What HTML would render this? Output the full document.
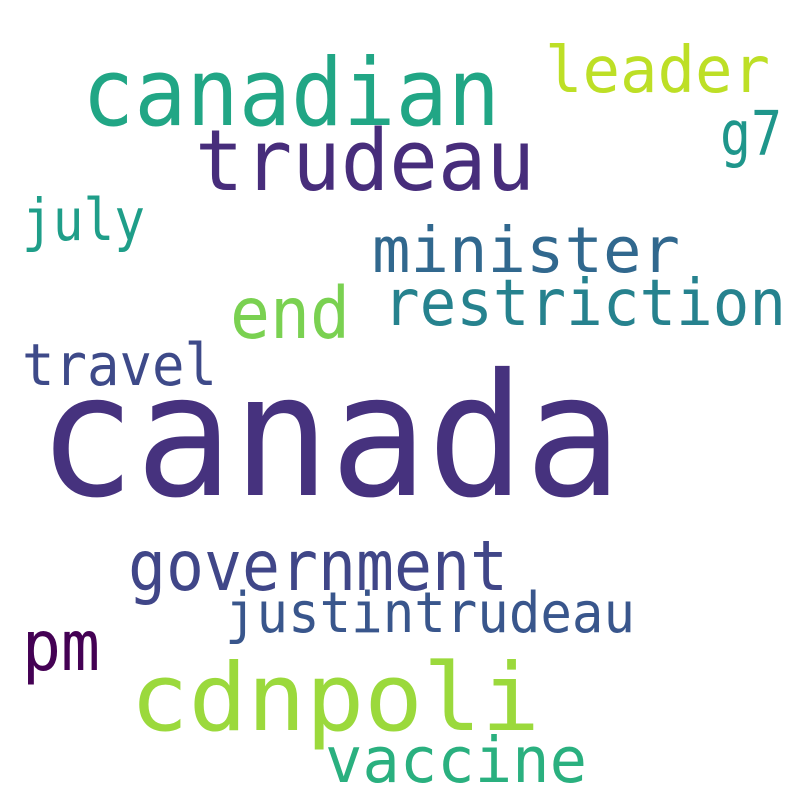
<!DOCTYPE html>
<html><head><meta charset="utf-8"><style>
html,body{margin:0;padding:0;background:#fff;}
svg{display:block;}
text{font-family:"DejaVu Sans Mono","Liberation Mono",monospace;}
</style></head><body>
<svg id="cloud" width="800" height="800" viewBox="0 0 800 800"></svg>
<script>
const words = ["canada","canadian","trudeau","leader","g7","july","minister","end","restriction","travel","government","justintrudeau","pm","cdnpoli","vaccine"];
const weights = [1.0,0.55,0.5,0.38,0.36,0.34,0.37,0.42,0.38,0.34,0.41,0.33,0.41,0.55,0.37];
const colors = ["#46327e","#21a685","#472d7b","#bddf26","#1f968b","#1f9e89","#31688e","#7ad151","#26828e","#3e4a89","#404688","#39568c","#440154","#9bd93c","#2ab07f"];
// layout (x-left, baseline, width) of each placed word
const layout = [[38,495,584],[82,125,418],[195,190,340],[545,92,225],[720,155,62],[22,240,123],[372,272,308],[230,338,120],[383,325,403],[22,385,195],[128,590,380],[225,632,410],[22,670,78],[130,730,410],[325,782,262]];
const svg = document.getElementById('cloud');
const NS = "http://www.w3.org/2000/svg";
const maxFont = 170;
words.forEach((w,i)=>{
  const t = document.createElementNS(NS,'text');
  
  
  t.setAttribute('x', layout[i][0]);
  t.setAttribute('y', layout[i][1]);
  t.setAttribute('font-size', (weights[i]*maxFont).toFixed(1));
  t.setAttribute('fill', colors[i]);
  t.setAttribute('textLength', layout[i][2]);
  t.setAttribute('lengthAdjust', 'spacingAndGlyphs');
  t.textContent = w;
  svg.appendChild(t);
});
</script>
</body></html>
